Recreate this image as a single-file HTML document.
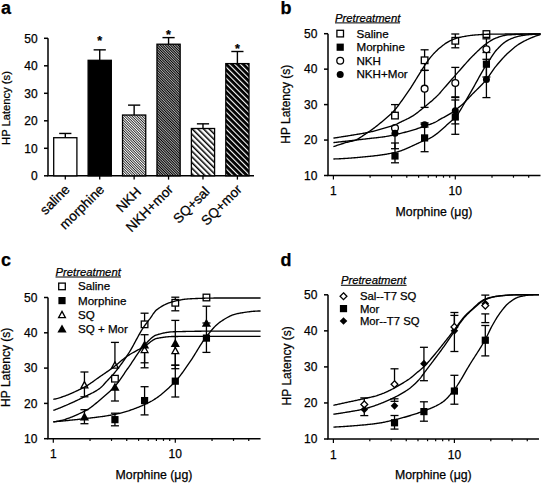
<!DOCTYPE html>
<html><head><meta charset="utf-8"><style>html,body{margin:0;padding:0;background:#fff;}svg{display:block;}text{stroke:#000;stroke-width:0.25px;}</style></head>
<body><svg width="542" height="483" viewBox="0 0 542 483">
<defs>
<pattern id="p1" patternUnits="userSpaceOnUse" width="1.8" height="1.8" patternTransform="rotate(-45)"><rect width="1.8" height="1.8" fill="#fff"/><rect width="0.75" height="1.8" fill="#000"/></pattern>
<pattern id="p2" patternUnits="userSpaceOnUse" width="1.8" height="1.8" patternTransform="rotate(-45)"><rect width="1.8" height="1.8" fill="#fff"/><rect width="1.2" height="1.8" fill="#000"/></pattern>
<pattern id="p3" patternUnits="userSpaceOnUse" width="4" height="4" patternTransform="rotate(-45)"><rect width="4" height="4" fill="#fff"/><rect width="1.5" height="4" fill="#000"/></pattern>
<pattern id="p4" patternUnits="userSpaceOnUse" width="4" height="4" patternTransform="rotate(-45)"><rect width="4" height="4" fill="#000"/><rect width="1.1" height="4" fill="#fff"/></pattern>
</defs>
<rect width="542" height="483" fill="#fff"/>
<text x="1" y="13.7" font-family="'Liberation Sans', sans-serif" font-weight="bold" font-size="18">a</text>
<text transform="translate(10.3,108) rotate(-90)" text-anchor="middle" font-family="'Liberation Sans', sans-serif" font-size="11.2">HP Latency (s)</text>
<path d="M48,38.3 V175.8 H254" stroke="#000" stroke-width="1.5" fill="none"/>
<line x1="44" y1="175.80" x2="48" y2="175.80" stroke="#000" stroke-width="1.5"/>
<text x="37.6" y="180.10" text-anchor="end" font-family="'Liberation Sans', sans-serif" font-size="12">0</text>
<line x1="44" y1="148.30" x2="48" y2="148.30" stroke="#000" stroke-width="1.5"/>
<text x="37.6" y="152.60" text-anchor="end" font-family="'Liberation Sans', sans-serif" font-size="12">10</text>
<line x1="44" y1="120.80" x2="48" y2="120.80" stroke="#000" stroke-width="1.5"/>
<text x="37.6" y="125.10" text-anchor="end" font-family="'Liberation Sans', sans-serif" font-size="12">20</text>
<line x1="44" y1="93.30" x2="48" y2="93.30" stroke="#000" stroke-width="1.5"/>
<text x="37.6" y="97.60" text-anchor="end" font-family="'Liberation Sans', sans-serif" font-size="12">30</text>
<line x1="44" y1="65.80" x2="48" y2="65.80" stroke="#000" stroke-width="1.5"/>
<text x="37.6" y="70.10" text-anchor="end" font-family="'Liberation Sans', sans-serif" font-size="12">40</text>
<line x1="44" y1="38.30" x2="48" y2="38.30" stroke="#000" stroke-width="1.5"/>
<text x="37.6" y="42.60" text-anchor="end" font-family="'Liberation Sans', sans-serif" font-size="12">50</text>
<line x1="65.30" y1="137.71" x2="65.30" y2="133.45" stroke="#000" stroke-width="1.4"/>
<line x1="59.20" y1="133.45" x2="71.40" y2="133.45" stroke="#000" stroke-width="1.4"/>
<rect x="53.70" y="137.71" width="23.20" height="38.09" fill="white" stroke="#000" stroke-width="1.3"/>
<line x1="65.30" y1="175.80" x2="65.30" y2="179.6" stroke="#000" stroke-width="1.3"/>
<text transform="translate(70.70,190.30) rotate(-45)" text-anchor="end" font-family="'Liberation Sans', sans-serif" font-size="13.6">saline</text>
<line x1="99.72" y1="60.30" x2="99.72" y2="49.85" stroke="#000" stroke-width="1.4"/>
<line x1="93.62" y1="49.85" x2="105.82" y2="49.85" stroke="#000" stroke-width="1.4"/>
<rect x="88.12" y="60.30" width="23.20" height="115.50" fill="#000" stroke="#000" stroke-width="1.3"/>
<line x1="99.72" y1="175.80" x2="99.72" y2="179.6" stroke="#000" stroke-width="1.3"/>
<text transform="translate(105.12,190.30) rotate(-45)" text-anchor="end" font-family="'Liberation Sans', sans-serif" font-size="13.6">morphine</text>
<line x1="134.14" y1="115.03" x2="134.14" y2="105.13" stroke="#000" stroke-width="1.4"/>
<line x1="128.04" y1="105.13" x2="140.24" y2="105.13" stroke="#000" stroke-width="1.4"/>
<rect x="122.54" y="115.03" width="23.20" height="60.78" fill="url(#p1)" stroke="#000" stroke-width="1.3"/>
<line x1="134.14" y1="175.80" x2="134.14" y2="179.6" stroke="#000" stroke-width="1.3"/>
<text transform="translate(141.94,192.70) rotate(-45)" text-anchor="end" font-family="'Liberation Sans', sans-serif" font-size="13.6">NKH</text>
<line x1="168.56" y1="44.21" x2="168.56" y2="37.61" stroke="#000" stroke-width="1.4"/>
<line x1="162.46" y1="37.61" x2="174.66" y2="37.61" stroke="#000" stroke-width="1.4"/>
<rect x="156.96" y="44.21" width="23.20" height="131.59" fill="url(#p2)" stroke="#000" stroke-width="1.3"/>
<line x1="168.56" y1="175.80" x2="168.56" y2="179.6" stroke="#000" stroke-width="1.3"/>
<text transform="translate(173.96,190.30) rotate(-45)" text-anchor="end" font-family="'Liberation Sans', sans-serif" font-size="13.6">NKH+mor</text>
<line x1="202.98" y1="128.50" x2="202.98" y2="123.83" stroke="#000" stroke-width="1.4"/>
<line x1="196.88" y1="123.83" x2="209.08" y2="123.83" stroke="#000" stroke-width="1.4"/>
<rect x="191.38" y="128.50" width="23.20" height="47.30" fill="url(#p3)" stroke="#000" stroke-width="1.3"/>
<line x1="202.98" y1="175.80" x2="202.98" y2="179.6" stroke="#000" stroke-width="1.3"/>
<text transform="translate(210.48,192.40) rotate(-45)" text-anchor="end" font-family="'Liberation Sans', sans-serif" font-size="13.6">SQ+sal</text>
<line x1="237.40" y1="63.60" x2="237.40" y2="51.50" stroke="#000" stroke-width="1.4"/>
<line x1="231.30" y1="51.50" x2="243.50" y2="51.50" stroke="#000" stroke-width="1.4"/>
<rect x="225.80" y="63.60" width="23.20" height="112.20" fill="url(#p4)" stroke="#000" stroke-width="1.3"/>
<line x1="237.40" y1="175.80" x2="237.40" y2="179.6" stroke="#000" stroke-width="1.3"/>
<text transform="translate(242.80,190.30) rotate(-45)" text-anchor="end" font-family="'Liberation Sans', sans-serif" font-size="13.6">SQ+mor</text>
<text x="99.72" y="45.10" text-anchor="middle" font-family="'Liberation Sans', sans-serif" font-weight="bold" font-size="12.5">*</text>
<text x="168.56" y="39.10" text-anchor="middle" font-family="'Liberation Sans', sans-serif" font-weight="bold" font-size="12.5">*</text>
<text x="237.40" y="52.90" text-anchor="middle" font-family="'Liberation Sans', sans-serif" font-weight="bold" font-size="12.5">*</text>
<text x="280.5" y="13.8" font-family="'Liberation Sans', sans-serif" font-weight="bold" font-size="18">b</text>
<text transform="translate(290.4,104.2) rotate(-90)" text-anchor="middle" font-family="'Liberation Sans', sans-serif" font-size="12">HP Latency (s)</text>
<path d="M328,33.70 V175.50 H540.50" stroke="#000" stroke-width="1.5" fill="none"/>
<line x1="324" y1="175.50" x2="328" y2="175.50" stroke="#000" stroke-width="1.5"/>
<text x="317.40" y="179.80" text-anchor="end" font-family="'Liberation Sans', sans-serif" font-size="12">10</text>
<line x1="324" y1="140.05" x2="328" y2="140.05" stroke="#000" stroke-width="1.5"/>
<text x="317.40" y="144.35" text-anchor="end" font-family="'Liberation Sans', sans-serif" font-size="12">20</text>
<line x1="324" y1="104.60" x2="328" y2="104.60" stroke="#000" stroke-width="1.5"/>
<text x="317.40" y="108.90" text-anchor="end" font-family="'Liberation Sans', sans-serif" font-size="12">30</text>
<line x1="324" y1="69.15" x2="328" y2="69.15" stroke="#000" stroke-width="1.5"/>
<text x="317.40" y="73.45" text-anchor="end" font-family="'Liberation Sans', sans-serif" font-size="12">40</text>
<line x1="324" y1="33.70" x2="328" y2="33.70" stroke="#000" stroke-width="1.5"/>
<text x="317.40" y="38.00" text-anchor="end" font-family="'Liberation Sans', sans-serif" font-size="12">50</text>
<line x1="333.40" y1="175.50" x2="333.40" y2="179.50" stroke="#000" stroke-width="1.2"/>
<line x1="370.10" y1="175.50" x2="370.10" y2="177.70" stroke="#000" stroke-width="1.2"/>
<line x1="391.56" y1="175.50" x2="391.56" y2="177.70" stroke="#000" stroke-width="1.2"/>
<line x1="406.79" y1="175.50" x2="406.79" y2="177.70" stroke="#000" stroke-width="1.2"/>
<line x1="418.60" y1="175.50" x2="418.60" y2="177.70" stroke="#000" stroke-width="1.2"/>
<line x1="428.26" y1="175.50" x2="428.26" y2="177.70" stroke="#000" stroke-width="1.2"/>
<line x1="436.42" y1="175.50" x2="436.42" y2="177.70" stroke="#000" stroke-width="1.2"/>
<line x1="443.49" y1="175.50" x2="443.49" y2="177.70" stroke="#000" stroke-width="1.2"/>
<line x1="449.72" y1="175.50" x2="449.72" y2="177.70" stroke="#000" stroke-width="1.2"/>
<line x1="455.30" y1="175.50" x2="455.30" y2="179.50" stroke="#000" stroke-width="1.2"/>
<line x1="492.00" y1="175.50" x2="492.00" y2="177.70" stroke="#000" stroke-width="1.2"/>
<line x1="513.46" y1="175.50" x2="513.46" y2="177.70" stroke="#000" stroke-width="1.2"/>
<line x1="528.69" y1="175.50" x2="528.69" y2="177.70" stroke="#000" stroke-width="1.2"/>
<text x="333.40" y="195.00" text-anchor="middle" font-family="'Liberation Sans', sans-serif" font-size="12">1</text>
<text x="455.30" y="195.00" text-anchor="middle" font-family="'Liberation Sans', sans-serif" font-size="12">10</text>
<text x="434" y="215.90" text-anchor="middle" font-family="'Liberation Sans', sans-serif" font-size="12.3">Morphine (μg)</text>
<text x="335" y="21.6" font-family="'Liberation Sans', sans-serif" font-style="italic" font-size="11.3">Pretreatment</text>
<line x1="335" y1="22.900000000000002" x2="400" y2="22.900000000000002" stroke="#000" stroke-width="1"/>
<rect x="336.90" y="30.30" width="6.6" height="6.6" fill="#fff" stroke="#000" stroke-width="1.3"/>
<text x="356.5" y="37.60" font-family="'Liberation Sans', sans-serif" font-size="11.6">Saline</text>
<rect x="336.60" y="43.60" width="7.2" height="7.2" fill="#000"/>
<text x="356.5" y="51.20" font-family="'Liberation Sans', sans-serif" font-size="11.6">Morphine</text>
<circle cx="340.20" cy="60.80" r="3.4" fill="#fff" stroke="#000" stroke-width="1.3"/>
<text x="356.5" y="64.80" font-family="'Liberation Sans', sans-serif" font-size="11.6">NKH</text>
<circle cx="340.20" cy="74.40" r="3.5" fill="#000"/>
<text x="356.5" y="78.40" font-family="'Liberation Sans', sans-serif" font-size="11.6">NKH+Mor</text>
<line x1="394.98" y1="104.60" x2="394.98" y2="115.59" stroke="#000" stroke-width="1.3"/>
<line x1="390.98" y1="104.60" x2="398.98" y2="104.60" stroke="#000" stroke-width="1.3"/>
<line x1="424.60" y1="49.80" x2="424.60" y2="70.40" stroke="#000" stroke-width="1.3"/>
<line x1="420.60" y1="49.80" x2="428.60" y2="49.80" stroke="#000" stroke-width="1.3"/>
<line x1="420.60" y1="70.40" x2="428.60" y2="70.40" stroke="#000" stroke-width="1.3"/>
<line x1="455.30" y1="34.00" x2="455.30" y2="47.80" stroke="#000" stroke-width="1.3"/>
<line x1="451.30" y1="34.00" x2="459.30" y2="34.00" stroke="#000" stroke-width="1.3"/>
<line x1="451.30" y1="47.80" x2="459.30" y2="47.80" stroke="#000" stroke-width="1.3"/>
<line x1="424.60" y1="70.40" x2="424.60" y2="107.40" stroke="#000" stroke-width="1.3"/>
<line x1="420.60" y1="70.40" x2="428.60" y2="70.40" stroke="#000" stroke-width="1.3"/>
<line x1="420.60" y1="107.40" x2="428.60" y2="107.40" stroke="#000" stroke-width="1.3"/>
<line x1="455.30" y1="67.40" x2="455.30" y2="96.90" stroke="#000" stroke-width="1.3"/>
<line x1="451.30" y1="67.40" x2="459.30" y2="67.40" stroke="#000" stroke-width="1.3"/>
<line x1="451.30" y1="96.90" x2="459.30" y2="96.90" stroke="#000" stroke-width="1.3"/>
<line x1="486.42" y1="38.80" x2="486.42" y2="49.30" stroke="#000" stroke-width="1.3"/>
<line x1="482.42" y1="38.80" x2="490.42" y2="38.80" stroke="#000" stroke-width="1.3"/>
<line x1="394.98" y1="143.00" x2="394.98" y2="162.80" stroke="#000" stroke-width="1.3"/>
<line x1="390.98" y1="143.00" x2="398.98" y2="143.00" stroke="#000" stroke-width="1.3"/>
<line x1="390.98" y1="162.80" x2="398.98" y2="162.80" stroke="#000" stroke-width="1.3"/>
<line x1="424.60" y1="124.30" x2="424.60" y2="151.70" stroke="#000" stroke-width="1.3"/>
<line x1="420.60" y1="124.30" x2="428.60" y2="124.30" stroke="#000" stroke-width="1.3"/>
<line x1="420.60" y1="151.70" x2="428.60" y2="151.70" stroke="#000" stroke-width="1.3"/>
<line x1="455.30" y1="100.00" x2="455.30" y2="123.90" stroke="#000" stroke-width="1.3"/>
<line x1="451.30" y1="100.00" x2="459.30" y2="100.00" stroke="#000" stroke-width="1.3"/>
<line x1="451.30" y1="123.90" x2="459.30" y2="123.90" stroke="#000" stroke-width="1.3"/>
<line x1="486.42" y1="52.50" x2="486.42" y2="77.00" stroke="#000" stroke-width="1.3"/>
<line x1="482.42" y1="52.50" x2="490.42" y2="52.50" stroke="#000" stroke-width="1.3"/>
<line x1="482.42" y1="77.00" x2="490.42" y2="77.00" stroke="#000" stroke-width="1.3"/>
<line x1="394.98" y1="133.31" x2="394.98" y2="148.70" stroke="#000" stroke-width="1.3"/>
<line x1="390.98" y1="148.70" x2="398.98" y2="148.70" stroke="#000" stroke-width="1.3"/>
<line x1="424.60" y1="122.90" x2="424.60" y2="127.00" stroke="#000" stroke-width="1.3"/>
<line x1="420.60" y1="122.90" x2="428.60" y2="122.90" stroke="#000" stroke-width="1.3"/>
<line x1="420.60" y1="127.00" x2="428.60" y2="127.00" stroke="#000" stroke-width="1.3"/>
<line x1="455.30" y1="97.50" x2="455.30" y2="134.30" stroke="#000" stroke-width="1.3"/>
<line x1="451.30" y1="97.50" x2="459.30" y2="97.50" stroke="#000" stroke-width="1.3"/>
<line x1="451.30" y1="134.30" x2="459.30" y2="134.30" stroke="#000" stroke-width="1.3"/>
<line x1="486.42" y1="59.30" x2="486.42" y2="97.60" stroke="#000" stroke-width="1.3"/>
<line x1="482.42" y1="59.30" x2="490.42" y2="59.30" stroke="#000" stroke-width="1.3"/>
<line x1="482.42" y1="97.60" x2="490.42" y2="97.60" stroke="#000" stroke-width="1.3"/>
<rect x="391.68" y="112.29" width="6.6" height="6.6" fill="#fff" stroke="#000" stroke-width="1.3"/>
<rect x="421.30" y="56.99" width="6.6" height="6.6" fill="#fff" stroke="#000" stroke-width="1.3"/>
<rect x="452.00" y="37.49" width="6.6" height="6.6" fill="#fff" stroke="#000" stroke-width="1.3"/>
<rect x="483.12" y="30.75" width="6.6" height="6.6" fill="#fff" stroke="#000" stroke-width="1.3"/>
<circle cx="394.98" cy="128.00" r="3.4" fill="#fff" stroke="#000" stroke-width="1.3"/>
<circle cx="424.60" cy="88.65" r="3.4" fill="#fff" stroke="#000" stroke-width="1.3"/>
<circle cx="455.30" cy="82.98" r="3.4" fill="#fff" stroke="#000" stroke-width="1.3"/>
<circle cx="486.42" cy="49.30" r="3.4" fill="#fff" stroke="#000" stroke-width="1.3"/>
<rect x="391.38" y="152.40" width="7.2" height="7.2" fill="#000"/>
<rect x="421.00" y="134.32" width="7.2" height="7.2" fill="#000"/>
<rect x="451.70" y="113.41" width="7.2" height="7.2" fill="#000"/>
<rect x="482.82" y="60.59" width="7.2" height="7.2" fill="#000"/>
<circle cx="394.98" cy="133.31" r="3.5" fill="#000"/>
<circle cx="424.60" cy="124.81" r="3.5" fill="#000"/>
<circle cx="455.30" cy="110.63" r="3.5" fill="#000"/>
<circle cx="486.42" cy="79.43" r="3.5" fill="#000"/>
<polyline points="333.40,146.70 334.26,146.38 335.13,146.07 335.99,145.76 336.85,145.46 337.71,145.17 338.58,144.87 339.44,144.59 340.30,144.31 341.17,144.03 342.03,143.76 342.89,143.49 343.76,143.23 344.62,142.97 345.48,142.72 346.34,142.47 347.21,142.24 348.07,142.02 348.93,141.82 349.80,141.63 350.66,141.44 351.52,141.24 352.38,141.04 353.25,140.81 354.11,140.56 354.97,140.27 355.84,139.94 356.70,139.55 357.56,139.12 358.43,138.64 359.29,138.13 360.15,137.59 361.01,137.03 361.88,136.45 362.74,135.86 363.60,135.26 364.47,134.66 365.33,134.08 366.19,133.50 367.05,132.94 367.92,132.37 368.78,131.79 369.64,131.20 370.51,130.61 371.37,130.00 372.23,129.38 373.10,128.75 373.96,128.11 374.82,127.46 375.68,126.79 376.55,126.11 377.41,125.42 378.27,124.73 379.14,124.02 380.00,123.32 380.86,122.61 381.72,121.90 382.59,121.19 383.45,120.48 384.31,119.77 385.18,119.05 386.04,118.32 386.90,117.59 387.76,116.84 388.63,116.07 389.49,115.28 390.35,114.47 391.22,113.65 392.08,112.80 392.94,111.92 393.81,111.00 394.67,110.05 395.53,109.05 396.39,107.99 397.26,106.89 398.12,105.75 398.98,104.59 399.85,103.40 400.71,102.21 401.57,101.01 402.43,99.81 403.30,98.62 404.16,97.41 405.02,96.19 405.89,94.96 406.75,93.71 407.61,92.46 408.48,91.19 409.34,89.90 410.20,88.60 411.06,87.29 411.93,85.95 412.79,84.59 413.65,83.21 414.52,81.82 415.38,80.41 416.24,79.01 417.10,77.61 417.97,76.21 418.83,74.83 419.69,73.43 420.56,72.03 421.42,70.62 422.28,69.22 423.15,67.84 424.01,66.49 424.87,65.19 425.73,63.92 426.60,62.65 427.46,61.40 428.32,60.18 429.19,59.01 430.05,57.88 430.91,56.82 431.77,55.82 432.64,54.85 433.50,53.90 434.36,52.99 435.23,52.10 436.09,51.24 436.95,50.42 437.82,49.62 438.68,48.85 439.54,48.11 440.40,47.40 441.27,46.70 442.13,46.01 442.99,45.33 443.86,44.68 444.72,44.04 445.58,43.43 446.44,42.85 447.31,42.31 448.17,41.80 449.03,41.33 449.90,40.91 450.76,40.51 451.62,40.12 452.49,39.75 453.35,39.40 454.21,39.06 455.07,38.74 455.94,38.44 456.80,38.16 457.66,37.90 458.53,37.66 459.39,37.44 460.25,37.24 461.11,37.06 461.98,36.88 462.84,36.71 463.70,36.54 464.57,36.38 465.43,36.23 466.29,36.08 467.15,35.94 468.02,35.81 468.88,35.68 469.74,35.56 470.61,35.45 471.47,35.35 472.33,35.25 473.20,35.16 474.06,35.08 474.92,35.01 475.78,34.94 476.65,34.87 477.51,34.81 478.37,34.74 479.24,34.68 480.10,34.62 480.96,34.57 481.82,34.51 482.69,34.46 483.55,34.42 484.41,34.37 485.28,34.34 486.14,34.30 487.00,34.27 487.87,34.24 488.73,34.22 489.59,34.21 490.45,34.19 491.32,34.18 492.18,34.17 493.04,34.16 493.91,34.15 494.77,34.14 495.63,34.13 496.49,34.12 497.36,34.12 498.22,34.11 499.08,34.10 499.95,34.09 500.81,34.08 501.67,34.07 502.54,34.07 503.40,34.06 504.26,34.05 505.12,34.04 505.99,34.04 506.85,34.03 507.71,34.02 508.58,34.02 509.44,34.01 510.30,34.00 511.16,34.00 512.03,33.99 512.89,33.99 513.75,33.98 514.62,33.97 515.48,33.97 516.34,33.96 517.21,33.96 518.07,33.96 518.93,33.95 519.79,33.95 520.66,33.94 521.52,33.94 522.38,33.94 523.25,33.93 524.11,33.93 524.97,33.93 525.83,33.92 526.70,33.92 527.56,33.92 528.42,33.92 529.29,33.91 530.15,33.91 531.01,33.91 531.88,33.91 532.74,33.91 533.60,33.90 534.46,33.90 535.33,33.90 536.19,33.90 537.05,33.90 537.92,33.90 538.78,33.90 539.64,33.90 540.50,33.90" fill="none" stroke="#000" stroke-width="1.35"/>
<polyline points="333.40,138.10 334.26,137.97 335.13,137.85 335.99,137.72 336.85,137.59 337.71,137.46 338.58,137.33 339.44,137.19 340.30,137.06 341.17,136.93 342.03,136.79 342.89,136.66 343.76,136.52 344.62,136.39 345.48,136.25 346.34,136.11 347.21,135.97 348.07,135.83 348.93,135.69 349.80,135.55 350.66,135.41 351.52,135.26 352.38,135.12 353.25,134.98 354.11,134.84 354.97,134.70 355.84,134.56 356.70,134.42 357.56,134.28 358.43,134.14 359.29,134.00 360.15,133.85 361.01,133.70 361.88,133.56 362.74,133.40 363.60,133.25 364.47,133.09 365.33,132.93 366.19,132.77 367.05,132.60 367.92,132.43 368.78,132.26 369.64,132.08 370.51,131.89 371.37,131.70 372.23,131.50 373.10,131.29 373.96,131.08 374.82,130.86 375.68,130.64 376.55,130.41 377.41,130.18 378.27,129.94 379.14,129.70 380.00,129.46 380.86,129.21 381.72,128.96 382.59,128.71 383.45,128.46 384.31,128.21 385.18,127.95 386.04,127.70 386.90,127.45 387.76,127.20 388.63,126.95 389.49,126.69 390.35,126.43 391.22,126.16 392.08,125.88 392.94,125.58 393.81,125.28 394.67,124.95 395.53,124.60 396.39,124.21 397.26,123.79 398.12,123.35 398.98,122.91 399.85,122.48 400.71,122.05 401.57,121.64 402.43,121.23 403.30,120.82 404.16,120.41 405.02,120.00 405.89,119.58 406.75,119.16 407.61,118.73 408.48,118.29 409.34,117.84 410.20,117.37 411.06,116.89 411.93,116.38 412.79,115.86 413.65,115.31 414.52,114.73 415.38,114.13 416.24,113.50 417.10,112.86 417.97,112.20 418.83,111.53 419.69,110.84 420.56,110.15 421.42,109.45 422.28,108.74 423.15,108.04 424.01,107.33 424.87,106.62 425.73,105.92 426.60,105.22 427.46,104.51 428.32,103.80 429.19,103.09 430.05,102.36 430.91,101.63 431.77,100.89 432.64,100.14 433.50,99.37 434.36,98.59 435.23,97.80 436.09,96.98 436.95,96.14 437.82,95.29 438.68,94.40 439.54,93.45 440.40,92.45 441.27,91.43 442.13,90.40 442.99,89.39 443.86,88.39 444.72,87.41 445.58,86.43 446.44,85.44 447.31,84.46 448.17,83.48 449.03,82.50 449.90,81.52 450.76,80.54 451.62,79.56 452.49,78.57 453.35,77.59 454.21,76.60 455.07,75.61 455.94,74.62 456.80,73.63 457.66,72.64 458.53,71.66 459.39,70.69 460.25,69.72 461.11,68.74 461.98,67.77 462.84,66.78 463.70,65.80 464.57,64.82 465.43,63.84 466.29,62.87 467.15,61.90 468.02,60.94 468.88,60.00 469.74,59.06 470.61,58.14 471.47,57.24 472.33,56.36 473.20,55.50 474.06,54.66 474.92,53.81 475.78,52.96 476.65,52.12 477.51,51.29 478.37,50.46 479.24,49.65 480.10,48.85 480.96,48.06 481.82,47.30 482.69,46.55 483.55,45.83 484.41,45.13 485.28,44.46 486.14,43.81 487.00,43.20 487.87,42.62 488.73,42.04 489.59,41.48 490.45,40.93 491.32,40.40 492.18,39.89 493.04,39.41 493.91,38.96 494.77,38.54 495.63,38.17 496.49,37.84 497.36,37.54 498.22,37.24 499.08,36.95 499.95,36.66 500.81,36.39 501.67,36.14 502.54,35.90 503.40,35.67 504.26,35.47 505.12,35.30 505.99,35.15 506.85,35.03 507.71,34.94 508.58,34.88 509.44,34.82 510.30,34.77 511.16,34.72 512.03,34.67 512.89,34.63 513.75,34.58 514.62,34.54 515.48,34.50 516.34,34.45 517.21,34.42 518.07,34.38 518.93,34.34 519.79,34.31 520.66,34.27 521.52,34.24 522.38,34.21 523.25,34.18 524.11,34.15 524.97,34.13 525.83,34.10 526.70,34.08 527.56,34.06 528.42,34.04 529.29,34.02 530.15,34.00 531.01,33.98 531.88,33.97 532.74,33.96 533.60,33.94 534.46,33.93 535.33,33.92 536.19,33.92 537.05,33.91 537.92,33.91 538.78,33.90 539.64,33.90 540.50,33.90" fill="none" stroke="#000" stroke-width="1.35"/>
<polyline points="333.40,159.00 334.26,158.97 335.13,158.95 335.99,158.92 336.85,158.88 337.71,158.85 338.58,158.81 339.44,158.77 340.30,158.73 341.17,158.68 342.03,158.64 342.89,158.59 343.76,158.54 344.62,158.49 345.48,158.43 346.34,158.37 347.21,158.32 348.07,158.26 348.93,158.19 349.80,158.13 350.66,158.07 351.52,158.00 352.38,157.93 353.25,157.86 354.11,157.79 354.97,157.72 355.84,157.65 356.70,157.57 357.56,157.49 358.43,157.42 359.29,157.34 360.15,157.26 361.01,157.18 361.88,157.10 362.74,157.02 363.60,156.93 364.47,156.85 365.33,156.77 366.19,156.68 367.05,156.60 367.92,156.51 368.78,156.42 369.64,156.34 370.51,156.25 371.37,156.16 372.23,156.07 373.10,155.97 373.96,155.88 374.82,155.78 375.68,155.68 376.55,155.57 377.41,155.47 378.27,155.36 379.14,155.24 380.00,155.13 380.86,155.01 381.72,154.89 382.59,154.76 383.45,154.63 384.31,154.50 385.18,154.36 386.04,154.22 386.90,154.08 387.76,153.93 388.63,153.78 389.49,153.62 390.35,153.46 391.22,153.30 392.08,153.12 392.94,152.95 393.81,152.77 394.67,152.59 395.53,152.39 396.39,152.17 397.26,151.94 398.12,151.69 398.98,151.42 399.85,151.14 400.71,150.85 401.57,150.54 402.43,150.22 403.30,149.88 404.16,149.54 405.02,149.19 405.89,148.83 406.75,148.46 407.61,148.08 408.48,147.70 409.34,147.31 410.20,146.91 411.06,146.51 411.93,146.11 412.79,145.71 413.65,145.30 414.52,144.90 415.38,144.49 416.24,144.09 417.10,143.69 417.97,143.29 418.83,142.89 419.69,142.50 420.56,142.11 421.42,141.73 422.28,141.36 423.15,140.99 424.01,140.64 424.87,140.30 425.73,139.97 426.60,139.65 427.46,139.32 428.32,138.97 429.19,138.59 430.05,138.18 430.91,137.72 431.77,137.22 432.64,136.69 433.50,136.13 434.36,135.54 435.23,134.92 436.09,134.28 436.95,133.61 437.82,132.92 438.68,132.22 439.54,131.50 440.40,130.76 441.27,130.01 442.13,129.25 442.99,128.48 443.86,127.71 444.72,126.93 445.58,126.15 446.44,125.37 447.31,124.60 448.17,123.82 449.03,123.06 449.90,122.30 450.76,121.56 451.62,120.83 452.49,120.08 453.35,119.30 454.21,118.46 455.07,117.55 455.94,116.55 456.80,115.46 457.66,114.29 458.53,113.04 459.39,111.73 460.25,110.36 461.11,108.94 461.98,107.48 462.84,105.99 463.70,104.47 464.57,102.95 465.43,101.41 466.29,99.88 467.15,98.35 468.02,96.85 468.88,95.37 469.74,93.91 470.61,92.43 471.47,90.92 472.33,89.40 473.20,87.87 474.06,86.32 474.92,84.76 475.78,83.20 476.65,81.63 477.51,80.07 478.37,78.51 479.24,76.95 480.10,75.40 480.96,73.87 481.82,72.35 482.69,70.85 483.55,69.37 484.41,67.92 485.28,66.49 486.14,65.09 487.00,63.73 487.87,62.40 488.73,61.10 489.59,59.81 490.45,58.52 491.32,57.20 492.18,55.88 493.04,54.59 493.91,53.33 494.77,52.13 495.63,51.02 496.49,50.01 497.36,49.09 498.22,48.18 499.08,47.30 499.95,46.44 500.81,45.60 501.67,44.80 502.54,44.04 503.40,43.31 504.26,42.62 505.12,41.98 505.99,41.39 506.85,40.84 507.71,40.35 508.58,39.91 509.44,39.50 510.30,39.10 511.16,38.72 512.03,38.36 512.89,38.02 513.75,37.69 514.62,37.39 515.48,37.10 516.34,36.84 517.21,36.60 518.07,36.37 518.93,36.18 519.79,36.00 520.66,35.84 521.52,35.69 522.38,35.55 523.25,35.41 524.11,35.29 524.97,35.17 525.83,35.06 526.70,34.95 527.56,34.85 528.42,34.76 529.29,34.68 530.15,34.60 531.01,34.53 531.88,34.46 532.74,34.40 533.60,34.34 534.46,34.28 535.33,34.22 536.19,34.17 537.05,34.13 537.92,34.09 538.78,34.05 539.64,34.02 540.50,34.00" fill="none" stroke="#000" stroke-width="1.35"/>
<polyline points="333.40,142.60 334.26,142.51 335.13,142.41 335.99,142.31 336.85,142.22 337.71,142.12 338.58,142.03 339.44,141.93 340.30,141.84 341.17,141.74 342.03,141.64 342.89,141.54 343.76,141.45 344.62,141.35 345.48,141.25 346.34,141.16 347.21,141.06 348.07,140.96 348.93,140.86 349.80,140.76 350.66,140.66 351.52,140.56 352.38,140.47 353.25,140.37 354.11,140.27 354.97,140.17 355.84,140.07 356.70,139.97 357.56,139.87 358.43,139.77 359.29,139.67 360.15,139.57 361.01,139.47 361.88,139.37 362.74,139.27 363.60,139.16 364.47,139.06 365.33,138.96 366.19,138.86 367.05,138.76 367.92,138.67 368.78,138.57 369.64,138.48 370.51,138.38 371.37,138.29 372.23,138.19 373.10,138.10 373.96,138.00 374.82,137.91 375.68,137.81 376.55,137.71 377.41,137.61 378.27,137.51 379.14,137.40 380.00,137.30 380.86,137.19 381.72,137.07 382.59,136.96 383.45,136.84 384.31,136.71 385.18,136.58 386.04,136.45 386.90,136.30 387.76,136.15 388.63,136.00 389.49,135.83 390.35,135.66 391.22,135.49 392.08,135.31 392.94,135.12 393.81,134.93 394.67,134.74 395.53,134.54 396.39,134.34 397.26,134.14 398.12,133.94 398.98,133.74 399.85,133.54 400.71,133.33 401.57,133.12 402.43,132.91 403.30,132.69 404.16,132.48 405.02,132.25 405.89,132.02 406.75,131.79 407.61,131.56 408.48,131.32 409.34,131.08 410.20,130.84 411.06,130.59 411.93,130.34 412.79,130.08 413.65,129.83 414.52,129.56 415.38,129.29 416.24,129.02 417.10,128.75 417.97,128.46 418.83,128.18 419.69,127.89 420.56,127.60 421.42,127.31 422.28,127.01 423.15,126.71 424.01,126.41 424.87,126.11 425.73,125.81 426.60,125.51 427.46,125.22 428.32,124.92 429.19,124.62 430.05,124.31 430.91,124.00 431.77,123.67 432.64,123.33 433.50,122.97 434.36,122.59 435.23,122.19 436.09,121.74 436.95,121.25 437.82,120.72 438.68,120.19 439.54,119.67 440.40,119.17 441.27,118.69 442.13,118.21 442.99,117.74 443.86,117.28 444.72,116.82 445.58,116.35 446.44,115.88 447.31,115.40 448.17,114.91 449.03,114.41 449.90,113.89 450.76,113.35 451.62,112.79 452.49,112.17 453.35,111.52 454.21,110.84 455.07,110.17 455.94,109.51 456.80,108.86 457.66,108.22 458.53,107.57 459.39,106.90 460.25,106.22 461.11,105.52 461.98,104.78 462.84,104.01 463.70,103.20 464.57,102.35 465.43,101.47 466.29,100.57 467.15,99.65 468.02,98.72 468.88,97.78 469.74,96.85 470.61,95.93 471.47,95.03 472.33,94.15 473.20,93.28 474.06,92.42 474.92,91.57 475.78,90.72 476.65,89.88 477.51,89.04 478.37,88.19 479.24,87.33 480.10,86.47 480.96,85.59 481.82,84.69 482.69,83.77 483.55,82.84 484.41,81.87 485.28,80.88 486.14,79.85 487.00,78.76 487.87,77.60 488.73,76.38 489.59,75.12 490.45,73.84 491.32,72.55 492.18,71.27 493.04,70.03 493.91,68.83 494.77,67.69 495.63,66.62 496.49,65.55 497.36,64.50 498.22,63.47 499.08,62.45 499.95,61.44 500.81,60.45 501.67,59.48 502.54,58.53 503.40,57.59 504.26,56.68 505.12,55.79 505.99,54.92 506.85,54.07 507.71,53.25 508.58,52.45 509.44,51.67 510.30,50.90 511.16,50.14 512.03,49.39 512.89,48.66 513.75,47.95 514.62,47.26 515.48,46.59 516.34,45.94 517.21,45.32 518.07,44.72 518.93,44.15 519.79,43.60 520.66,43.08 521.52,42.58 522.38,42.10 523.25,41.63 524.11,41.17 524.97,40.73 525.83,40.31 526.70,39.89 527.56,39.49 528.42,39.09 529.29,38.71 530.15,38.33 531.01,37.96 531.88,37.60 532.74,37.25 533.60,36.90 534.46,36.56 535.33,36.24 536.19,35.92 537.05,35.61 537.92,35.31 538.78,35.02 539.64,34.74 540.50,34.47" fill="none" stroke="#000" stroke-width="1.35"/>
<text x="1" y="265.7" font-family="'Liberation Sans', sans-serif" font-weight="bold" font-size="18">c</text>
<text transform="translate(10.3,367.3) rotate(-90)" text-anchor="middle" font-family="'Liberation Sans', sans-serif" font-size="12">HP Latency (s)</text>
<path d="M48,297.50 V438.70 H260.57" stroke="#000" stroke-width="1.5" fill="none"/>
<line x1="44" y1="438.70" x2="48" y2="438.70" stroke="#000" stroke-width="1.5"/>
<text x="37.40" y="443.00" text-anchor="end" font-family="'Liberation Sans', sans-serif" font-size="12">10</text>
<line x1="44" y1="403.40" x2="48" y2="403.40" stroke="#000" stroke-width="1.5"/>
<text x="37.40" y="407.70" text-anchor="end" font-family="'Liberation Sans', sans-serif" font-size="12">20</text>
<line x1="44" y1="368.10" x2="48" y2="368.10" stroke="#000" stroke-width="1.5"/>
<text x="37.40" y="372.40" text-anchor="end" font-family="'Liberation Sans', sans-serif" font-size="12">30</text>
<line x1="44" y1="332.80" x2="48" y2="332.80" stroke="#000" stroke-width="1.5"/>
<text x="37.40" y="337.10" text-anchor="end" font-family="'Liberation Sans', sans-serif" font-size="12">40</text>
<line x1="44" y1="297.50" x2="48" y2="297.50" stroke="#000" stroke-width="1.5"/>
<text x="37.40" y="301.80" text-anchor="end" font-family="'Liberation Sans', sans-serif" font-size="12">50</text>
<line x1="53.30" y1="438.70" x2="53.30" y2="442.70" stroke="#000" stroke-width="1.2"/>
<line x1="90.03" y1="438.70" x2="90.03" y2="440.90" stroke="#000" stroke-width="1.2"/>
<line x1="111.51" y1="438.70" x2="111.51" y2="440.90" stroke="#000" stroke-width="1.2"/>
<line x1="126.75" y1="438.70" x2="126.75" y2="440.90" stroke="#000" stroke-width="1.2"/>
<line x1="138.57" y1="438.70" x2="138.57" y2="440.90" stroke="#000" stroke-width="1.2"/>
<line x1="148.23" y1="438.70" x2="148.23" y2="440.90" stroke="#000" stroke-width="1.2"/>
<line x1="156.40" y1="438.70" x2="156.40" y2="440.90" stroke="#000" stroke-width="1.2"/>
<line x1="163.48" y1="438.70" x2="163.48" y2="440.90" stroke="#000" stroke-width="1.2"/>
<line x1="169.72" y1="438.70" x2="169.72" y2="440.90" stroke="#000" stroke-width="1.2"/>
<line x1="175.30" y1="438.70" x2="175.30" y2="442.70" stroke="#000" stroke-width="1.2"/>
<line x1="212.03" y1="438.70" x2="212.03" y2="440.90" stroke="#000" stroke-width="1.2"/>
<line x1="233.51" y1="438.70" x2="233.51" y2="440.90" stroke="#000" stroke-width="1.2"/>
<line x1="248.75" y1="438.70" x2="248.75" y2="440.90" stroke="#000" stroke-width="1.2"/>
<text x="53.30" y="458.20" text-anchor="middle" font-family="'Liberation Sans', sans-serif" font-size="12">1</text>
<text x="175.30" y="458.20" text-anchor="middle" font-family="'Liberation Sans', sans-serif" font-size="12">10</text>
<text x="154" y="479.10" text-anchor="middle" font-family="'Liberation Sans', sans-serif" font-size="12.3">Morphine (μg)</text>
<text x="55.5" y="275.7" font-family="'Liberation Sans', sans-serif" font-style="italic" font-size="11.3">Pretreatment</text>
<line x1="55.5" y1="277.0" x2="121.0" y2="277.0" stroke="#000" stroke-width="1"/>
<rect x="58.70" y="283.10" width="6.6" height="6.6" fill="#fff" stroke="#000" stroke-width="1.3"/>
<text x="78" y="290.40" font-family="'Liberation Sans', sans-serif" font-size="11.6">Saline</text>
<rect x="58.40" y="297.00" width="7.2" height="7.2" fill="#000"/>
<text x="78" y="304.60" font-family="'Liberation Sans', sans-serif" font-size="11.6">Morphine</text>
<path d="M62.00,311.40 L65.40,317.60 L58.60,317.60Z" fill="#fff" stroke="#000" stroke-width="1.3" stroke-linejoin="miter"/>
<text x="78" y="318.80" font-family="'Liberation Sans', sans-serif" font-size="11.6">SQ</text>
<path d="M62.00,324.40 L66.60,332.60 L57.40,332.60Z" fill="#000"/>
<text x="78" y="333.00" font-family="'Liberation Sans', sans-serif" font-size="11.6">SQ + Mor</text>
<line x1="144.58" y1="313.20" x2="144.58" y2="324.33" stroke="#000" stroke-width="1.3"/>
<line x1="140.58" y1="313.20" x2="148.58" y2="313.20" stroke="#000" stroke-width="1.3"/>
<line x1="175.30" y1="297.20" x2="175.30" y2="310.80" stroke="#000" stroke-width="1.3"/>
<line x1="171.30" y1="297.20" x2="179.30" y2="297.20" stroke="#000" stroke-width="1.3"/>
<line x1="171.30" y1="310.80" x2="179.30" y2="310.80" stroke="#000" stroke-width="1.3"/>
<line x1="114.93" y1="413.20" x2="114.93" y2="425.80" stroke="#000" stroke-width="1.3"/>
<line x1="110.93" y1="413.20" x2="118.93" y2="413.20" stroke="#000" stroke-width="1.3"/>
<line x1="110.93" y1="425.80" x2="118.93" y2="425.80" stroke="#000" stroke-width="1.3"/>
<line x1="144.58" y1="386.70" x2="144.58" y2="414.90" stroke="#000" stroke-width="1.3"/>
<line x1="140.58" y1="386.70" x2="148.58" y2="386.70" stroke="#000" stroke-width="1.3"/>
<line x1="140.58" y1="414.90" x2="148.58" y2="414.90" stroke="#000" stroke-width="1.3"/>
<line x1="175.30" y1="365.20" x2="175.30" y2="397.00" stroke="#000" stroke-width="1.3"/>
<line x1="171.30" y1="365.20" x2="179.30" y2="365.20" stroke="#000" stroke-width="1.3"/>
<line x1="171.30" y1="397.00" x2="179.30" y2="397.00" stroke="#000" stroke-width="1.3"/>
<line x1="206.44" y1="323.00" x2="206.44" y2="352.40" stroke="#000" stroke-width="1.3"/>
<line x1="202.44" y1="323.00" x2="210.44" y2="323.00" stroke="#000" stroke-width="1.3"/>
<line x1="202.44" y1="352.40" x2="210.44" y2="352.40" stroke="#000" stroke-width="1.3"/>
<line x1="84.44" y1="372.00" x2="84.44" y2="396.80" stroke="#000" stroke-width="1.3"/>
<line x1="80.44" y1="372.00" x2="88.44" y2="372.00" stroke="#000" stroke-width="1.3"/>
<line x1="80.44" y1="396.80" x2="88.44" y2="396.80" stroke="#000" stroke-width="1.3"/>
<line x1="114.93" y1="342.40" x2="114.93" y2="365.28" stroke="#000" stroke-width="1.3"/>
<line x1="110.93" y1="342.40" x2="118.93" y2="342.40" stroke="#000" stroke-width="1.3"/>
<line x1="144.58" y1="349.74" x2="144.58" y2="367.80" stroke="#000" stroke-width="1.3"/>
<line x1="140.58" y1="367.80" x2="148.58" y2="367.80" stroke="#000" stroke-width="1.3"/>
<line x1="175.30" y1="320.40" x2="175.30" y2="368.70" stroke="#000" stroke-width="1.3"/>
<line x1="171.30" y1="320.40" x2="179.30" y2="320.40" stroke="#000" stroke-width="1.3"/>
<line x1="171.30" y1="368.70" x2="179.30" y2="368.70" stroke="#000" stroke-width="1.3"/>
<line x1="84.44" y1="409.70" x2="84.44" y2="423.70" stroke="#000" stroke-width="1.3"/>
<line x1="80.44" y1="409.70" x2="88.44" y2="409.70" stroke="#000" stroke-width="1.3"/>
<line x1="80.44" y1="423.70" x2="88.44" y2="423.70" stroke="#000" stroke-width="1.3"/>
<line x1="114.93" y1="387.16" x2="114.93" y2="401.00" stroke="#000" stroke-width="1.3"/>
<line x1="110.93" y1="401.00" x2="118.93" y2="401.00" stroke="#000" stroke-width="1.3"/>
<line x1="144.58" y1="334.70" x2="144.58" y2="362.80" stroke="#000" stroke-width="1.3"/>
<line x1="140.58" y1="334.70" x2="148.58" y2="334.70" stroke="#000" stroke-width="1.3"/>
<line x1="140.58" y1="362.80" x2="148.58" y2="362.80" stroke="#000" stroke-width="1.3"/>
<line x1="175.30" y1="343.39" x2="175.30" y2="365.20" stroke="#000" stroke-width="1.3"/>
<line x1="171.30" y1="365.20" x2="179.30" y2="365.20" stroke="#000" stroke-width="1.3"/>
<line x1="206.44" y1="306.20" x2="206.44" y2="323.27" stroke="#000" stroke-width="1.3"/>
<line x1="202.44" y1="306.20" x2="210.44" y2="306.20" stroke="#000" stroke-width="1.3"/>
<rect x="111.63" y="375.39" width="6.6" height="6.6" fill="#fff" stroke="#000" stroke-width="1.3"/>
<rect x="141.28" y="321.03" width="6.6" height="6.6" fill="#fff" stroke="#000" stroke-width="1.3"/>
<rect x="172.00" y="299.49" width="6.6" height="6.6" fill="#fff" stroke="#000" stroke-width="1.3"/>
<rect x="203.14" y="294.20" width="6.6" height="6.6" fill="#fff" stroke="#000" stroke-width="1.3"/>
<rect x="111.33" y="416.04" width="7.2" height="7.2" fill="#000"/>
<rect x="140.98" y="396.98" width="7.2" height="7.2" fill="#000"/>
<rect x="171.70" y="377.56" width="7.2" height="7.2" fill="#000"/>
<rect x="202.84" y="334.50" width="7.2" height="7.2" fill="#000"/>
<path d="M84.44,381.64 L87.84,387.84 L81.04,387.84Z" fill="#fff" stroke="#000" stroke-width="1.3" stroke-linejoin="miter"/>
<path d="M114.93,361.88 L118.33,368.08 L111.53,368.08Z" fill="#fff" stroke="#000" stroke-width="1.3" stroke-linejoin="miter"/>
<path d="M144.58,346.34 L147.98,352.54 L141.18,352.54Z" fill="#fff" stroke="#000" stroke-width="1.3" stroke-linejoin="miter"/>
<path d="M175.30,347.40 L178.70,353.60 L171.90,353.60Z" fill="#fff" stroke="#000" stroke-width="1.3" stroke-linejoin="miter"/>
<path d="M84.44,412.21 L89.04,420.41 L79.84,420.41Z" fill="#000"/>
<path d="M114.93,382.56 L119.53,390.76 L110.33,390.76Z" fill="#000"/>
<path d="M144.58,340.20 L149.18,348.40 L139.98,348.40Z" fill="#000"/>
<path d="M175.30,338.79 L179.90,346.99 L170.70,346.99Z" fill="#000"/>
<path d="M206.44,318.67 L211.04,326.87 L201.84,326.87Z" fill="#000"/>
<polyline points="53.30,410.40 54.16,410.09 55.03,409.77 55.89,409.44 56.75,409.12 57.62,408.78 58.48,408.45 59.35,408.11 60.21,407.76 61.07,407.41 61.94,407.06 62.80,406.71 63.66,406.35 64.53,405.98 65.39,405.62 66.25,405.25 67.12,404.87 67.98,404.50 68.85,404.12 69.71,403.73 70.57,403.35 71.44,402.96 72.30,402.56 73.16,402.17 74.03,401.77 74.89,401.37 75.75,400.97 76.62,400.56 77.48,400.15 78.35,399.74 79.21,399.33 80.07,398.91 80.94,398.50 81.80,398.08 82.66,397.65 83.53,397.23 84.39,396.81 85.25,396.38 86.12,395.97 86.98,395.56 87.85,395.14 88.71,394.73 89.57,394.31 90.44,393.89 91.30,393.46 92.16,393.02 93.03,392.57 93.89,392.10 94.75,391.62 95.62,391.11 96.48,390.59 97.35,390.05 98.21,389.47 99.07,388.88 99.94,388.25 100.80,387.55 101.66,386.77 102.53,385.90 103.39,384.98 104.25,384.01 105.12,383.03 105.98,382.05 106.85,381.10 107.71,380.17 108.57,379.27 109.44,378.38 110.30,377.49 111.16,376.59 112.03,375.66 112.89,374.72 113.76,373.74 114.62,372.72 115.48,371.67 116.35,370.60 117.21,369.51 118.07,368.40 118.94,367.26 119.80,366.11 120.66,364.94 121.53,363.74 122.39,362.53 123.26,361.31 124.12,360.06 124.98,358.80 125.85,357.52 126.71,356.23 127.57,354.92 128.44,353.60 129.30,352.24 130.16,350.82 131.03,349.36 131.89,347.85 132.76,346.30 133.62,344.73 134.48,343.14 135.35,341.54 136.21,339.94 137.07,338.34 137.94,336.75 138.80,335.18 139.66,333.64 140.53,332.14 141.39,330.68 142.26,329.27 143.12,327.92 143.98,326.64 144.85,325.42 145.71,324.24 146.57,323.09 147.44,321.96 148.30,320.84 149.16,319.71 150.03,318.55 150.89,317.32 151.76,316.04 152.62,314.75 153.48,313.49 154.35,312.31 155.21,311.25 156.07,310.35 156.94,309.64 157.80,308.99 158.66,308.37 159.53,307.78 160.39,307.21 161.26,306.67 162.12,306.15 162.98,305.66 163.85,305.19 164.71,304.74 165.57,304.32 166.44,303.92 167.30,303.55 168.16,303.19 169.03,302.86 169.89,302.56 170.76,302.27 171.62,302.00 172.48,301.76 173.35,301.54 174.21,301.32 175.07,301.11 175.94,300.91 176.80,300.71 177.66,300.52 178.53,300.33 179.39,300.16 180.26,299.99 181.12,299.83 181.98,299.68 182.85,299.53 183.71,299.40 184.57,299.28 185.44,299.17 186.30,299.07 187.16,298.98 188.03,298.91 188.89,298.85 189.76,298.80 190.62,298.76 191.48,298.71 192.35,298.67 193.21,298.64 194.07,298.60 194.94,298.56 195.80,298.52 196.66,298.49 197.53,298.46 198.39,298.42 199.26,298.39 200.12,298.36 200.98,298.33 201.85,298.30 202.71,298.28 203.57,298.25 204.44,298.23 205.30,298.20 206.16,298.18 207.03,298.16 207.89,298.14 208.76,298.12 209.62,298.10 210.48,298.09 211.35,298.07 212.21,298.06 213.07,298.05 213.94,298.04 214.80,298.03 215.66,298.02 216.53,298.01 217.39,298.01 218.26,298.00 219.12,298.00 219.98,298.00 220.85,298.00 221.71,298.00 222.57,298.00 223.44,298.00 224.30,298.00 225.16,298.00 226.03,298.00 226.89,298.00 227.76,298.00 228.62,298.00 229.48,298.00 230.35,298.00 231.21,298.00 232.07,298.00 232.94,298.00 233.80,298.00 234.67,298.00 235.53,298.00 236.39,298.00 237.26,298.00 238.12,298.00 238.98,298.00 239.85,298.00 240.71,298.00 241.57,298.00 242.44,298.00 243.30,298.00 244.17,298.00 245.03,298.00 245.89,298.00 246.76,298.00 247.62,298.00 248.48,298.00 249.35,298.00 250.21,298.00 251.07,298.00 251.94,298.00 252.80,298.00 253.67,298.00 254.53,298.00 255.39,298.00 256.26,298.00 257.12,298.00 257.98,298.00 258.85,298.00 259.71,298.00 260.57,298.00" fill="none" stroke="#000" stroke-width="1.35"/>
<polyline points="53.30,421.80 54.16,421.73 55.03,421.66 55.89,421.59 56.75,421.51 57.62,421.44 58.48,421.36 59.35,421.29 60.21,421.21 61.07,421.13 61.94,421.05 62.80,420.97 63.66,420.89 64.53,420.81 65.39,420.72 66.25,420.64 67.12,420.55 67.98,420.47 68.85,420.38 69.71,420.29 70.57,420.20 71.44,420.11 72.30,420.02 73.16,419.93 74.03,419.84 74.89,419.75 75.75,419.65 76.62,419.56 77.48,419.46 78.35,419.37 79.21,419.27 80.07,419.17 80.94,419.08 81.80,418.98 82.66,418.88 83.53,418.78 84.39,418.68 85.25,418.58 86.12,418.48 86.98,418.38 87.85,418.28 88.71,418.18 89.57,418.08 90.44,417.98 91.30,417.88 92.16,417.78 93.03,417.67 93.89,417.57 94.75,417.47 95.62,417.36 96.48,417.26 97.35,417.15 98.21,417.04 99.07,416.93 99.94,416.81 100.80,416.70 101.66,416.58 102.53,416.46 103.39,416.34 104.25,416.21 105.12,416.08 105.98,415.95 106.85,415.82 107.71,415.68 108.57,415.54 109.44,415.39 110.30,415.24 111.16,415.09 112.03,414.93 112.89,414.77 113.76,414.61 114.62,414.44 115.48,414.26 116.35,414.08 117.21,413.89 118.07,413.69 118.94,413.49 119.80,413.28 120.66,413.06 121.53,412.84 122.39,412.61 123.26,412.37 124.12,412.13 124.98,411.88 125.85,411.62 126.71,411.36 127.57,411.09 128.44,410.82 129.30,410.53 130.16,410.25 131.03,409.95 131.89,409.65 132.76,409.34 133.62,409.03 134.48,408.71 135.35,408.38 136.21,408.05 137.07,407.71 137.94,407.36 138.80,407.01 139.66,406.66 140.53,406.29 141.39,405.92 142.26,405.55 143.12,405.16 143.98,404.77 144.85,404.38 145.71,403.98 146.57,403.57 147.44,403.16 148.30,402.74 149.16,402.32 150.03,401.89 150.89,401.44 151.76,400.97 152.62,400.48 153.48,399.97 154.35,399.44 155.21,398.88 156.07,398.31 156.94,397.72 157.80,397.11 158.66,396.48 159.53,395.83 160.39,395.17 161.26,394.49 162.12,393.79 162.98,393.07 163.85,392.35 164.71,391.60 165.57,390.84 166.44,390.07 167.30,389.29 168.16,388.49 169.03,387.68 169.89,386.86 170.76,386.03 171.62,385.19 172.48,384.33 173.35,383.47 174.21,382.60 175.07,381.72 175.94,380.80 176.80,379.83 177.66,378.82 178.53,377.77 179.39,376.68 180.26,375.56 181.12,374.41 181.98,373.24 182.85,372.05 183.71,370.84 184.57,369.61 185.44,368.38 186.30,367.13 187.16,365.89 188.03,364.64 188.89,363.40 189.76,362.16 190.62,360.91 191.48,359.62 192.35,358.29 193.21,356.94 194.07,355.56 194.94,354.16 195.80,352.75 196.66,351.33 197.53,349.91 198.39,348.50 199.26,347.10 200.12,345.71 200.98,344.35 201.85,343.02 202.71,341.72 203.57,340.45 204.44,339.24 205.30,338.07 206.16,336.96 207.03,335.87 207.89,334.77 208.76,333.68 209.62,332.61 210.48,331.55 211.35,330.51 212.21,329.49 213.07,328.50 213.94,327.54 214.80,326.63 215.66,325.75 216.53,324.92 217.39,324.14 218.26,323.41 219.12,322.74 219.98,322.13 220.85,321.54 221.71,320.96 222.57,320.38 223.44,319.82 224.30,319.28 225.16,318.74 226.03,318.23 226.89,317.73 227.76,317.25 228.62,316.79 229.48,316.35 230.35,315.94 231.21,315.55 232.07,315.19 232.94,314.85 233.80,314.55 234.67,314.28 235.53,314.03 236.39,313.83 237.26,313.65 238.12,313.49 238.98,313.33 239.85,313.17 240.71,313.01 241.57,312.86 242.44,312.72 243.30,312.57 244.17,312.44 245.03,312.30 245.89,312.17 246.76,312.05 247.62,311.93 248.48,311.82 249.35,311.72 250.21,311.62 251.07,311.52 251.94,311.44 252.80,311.36 253.67,311.29 254.53,311.22 255.39,311.16 256.26,311.12 257.12,311.07 257.98,311.04 258.85,311.02 259.71,311.01 260.57,311.00" fill="none" stroke="#000" stroke-width="1.35"/>
<polyline points="53.30,399.40 54.16,399.21 55.03,399.01 55.89,398.80 56.75,398.57 57.62,398.34 58.48,398.09 59.35,397.84 60.21,397.57 61.07,397.30 61.94,397.01 62.80,396.72 63.66,396.41 64.53,396.10 65.39,395.78 66.25,395.45 67.12,395.11 67.98,394.77 68.85,394.42 69.71,394.06 70.57,393.69 71.44,393.32 72.30,392.94 73.16,392.55 74.03,392.16 74.89,391.76 75.75,391.36 76.62,390.95 77.48,390.54 78.35,390.12 79.21,389.70 80.07,389.28 80.94,388.85 81.80,388.42 82.66,387.98 83.53,387.54 84.39,387.10 85.25,386.64 86.12,386.15 86.98,385.64 87.85,385.11 88.71,384.55 89.57,383.98 90.44,383.40 91.30,382.80 92.16,382.19 93.03,381.58 93.89,380.96 94.75,380.33 95.62,379.71 96.48,379.08 97.35,378.46 98.21,377.85 99.07,377.24 99.94,376.64 100.80,376.05 101.66,375.47 102.53,374.88 103.39,374.29 104.25,373.71 105.12,373.12 105.98,372.53 106.85,371.93 107.71,371.33 108.57,370.73 109.44,370.12 110.30,369.51 111.16,368.88 112.03,368.25 112.89,367.61 113.76,366.95 114.62,366.27 115.48,365.57 116.35,364.87 117.21,364.16 118.07,363.44 118.94,362.72 119.80,362.00 120.66,361.28 121.53,360.57 122.39,359.86 123.26,359.17 124.12,358.49 124.98,357.82 125.85,357.18 126.71,356.55 127.57,355.95 128.44,355.38 129.30,354.83 130.16,354.29 131.03,353.77 131.89,353.27 132.76,352.78 133.62,352.29 134.48,351.82 135.35,351.35 136.21,350.89 137.07,350.43 137.94,349.97 138.80,349.51 139.66,349.05 140.53,348.58 141.39,348.11 142.26,347.63 143.12,347.13 143.98,346.63 144.85,346.11 145.71,345.55 146.57,344.93 147.44,344.28 148.30,343.61 149.16,342.93 150.03,342.25 150.89,341.58 151.76,340.94 152.62,340.35 153.48,339.80 154.35,339.33 155.21,338.93 156.07,338.63 156.94,338.43 157.80,338.25 158.66,338.08 159.53,337.92 160.39,337.76 161.26,337.61 162.12,337.47 162.98,337.34 163.85,337.22 164.71,337.10 165.57,336.99 166.44,336.90 167.30,336.81 168.16,336.73 169.03,336.67 169.89,336.61 170.76,336.57 171.62,336.53 172.48,336.51 173.35,336.50 174.21,336.49 175.07,336.48 175.94,336.47 176.80,336.47 177.66,336.46 178.53,336.45 179.39,336.44 180.26,336.44 181.12,336.43 181.98,336.42 182.85,336.42 183.71,336.41 184.57,336.41 185.44,336.40 186.30,336.40 187.16,336.39 188.03,336.38 188.89,336.38 189.76,336.38 190.62,336.37 191.48,336.37 192.35,336.36 193.21,336.36 194.07,336.35 194.94,336.35 195.80,336.35 196.66,336.34 197.53,336.34 198.39,336.34 199.26,336.33 200.12,336.33 200.98,336.33 201.85,336.33 202.71,336.32 203.57,336.32 204.44,336.32 205.30,336.32 206.16,336.31 207.03,336.31 207.89,336.31 208.76,336.31 209.62,336.31 210.48,336.31 211.35,336.31 212.21,336.30 213.07,336.30 213.94,336.30 214.80,336.30 215.66,336.30 216.53,336.30 217.39,336.30 218.26,336.30 219.12,336.30 219.98,336.30 220.85,336.30 221.71,336.30 222.57,336.30 223.44,336.30 224.30,336.30 225.16,336.30 226.03,336.30 226.89,336.30 227.76,336.30 228.62,336.30 229.48,336.30 230.35,336.31 231.21,336.31 232.07,336.31 232.94,336.31 233.80,336.31 234.67,336.31 235.53,336.31 236.39,336.31 237.26,336.32 238.12,336.32 238.98,336.32 239.85,336.32 240.71,336.32 241.57,336.32 242.44,336.33 243.30,336.33 244.17,336.33 245.03,336.33 245.89,336.34 246.76,336.34 247.62,336.34 248.48,336.35 249.35,336.35 250.21,336.35 251.07,336.35 251.94,336.36 252.80,336.36 253.67,336.37 254.53,336.37 255.39,336.37 256.26,336.38 257.12,336.38 257.98,336.39 258.85,336.39 259.71,336.40 260.57,336.40" fill="none" stroke="#000" stroke-width="1.35"/>
<polyline points="53.30,421.80 54.16,421.72 55.03,421.62 55.89,421.51 56.75,421.38 57.62,421.23 58.48,421.07 59.35,420.89 60.21,420.70 61.07,420.50 61.94,420.28 62.80,420.05 63.66,419.80 64.53,419.55 65.39,419.28 66.25,419.00 67.12,418.71 67.98,418.41 68.85,418.10 69.71,417.78 70.57,417.45 71.44,417.11 72.30,416.76 73.16,416.41 74.03,416.05 74.89,415.68 75.75,415.30 76.62,414.92 77.48,414.54 78.35,414.15 79.21,413.75 80.07,413.35 80.94,412.95 81.80,412.54 82.66,412.13 83.53,411.72 84.39,411.31 85.25,410.87 86.12,410.40 86.98,409.90 87.85,409.37 88.71,408.82 89.57,408.24 90.44,407.63 91.30,407.01 92.16,406.36 93.03,405.70 93.89,405.02 94.75,404.32 95.62,403.61 96.48,402.89 97.35,402.16 98.21,401.42 99.07,400.67 99.94,399.92 100.80,399.17 101.66,398.41 102.53,397.66 103.39,396.91 104.25,396.16 105.12,395.41 105.98,394.67 106.85,393.94 107.71,393.19 108.57,392.44 109.44,391.68 110.30,390.90 111.16,390.09 112.03,389.27 112.89,388.42 113.76,387.53 114.62,386.61 115.48,385.64 116.35,384.62 117.21,383.54 118.07,382.42 118.94,381.26 119.80,380.06 120.66,378.83 121.53,377.58 122.39,376.32 123.26,375.04 124.12,373.77 124.98,372.49 125.85,371.22 126.71,369.97 127.57,368.74 128.44,367.53 129.30,366.30 130.16,365.04 131.03,363.76 131.89,362.47 132.76,361.16 133.62,359.85 134.48,358.54 135.35,357.23 136.21,355.93 137.07,354.65 137.94,353.39 138.80,352.15 139.66,350.94 140.53,349.77 141.39,348.64 142.26,347.56 143.12,346.53 143.98,345.56 144.85,344.65 145.71,343.75 146.57,342.85 147.44,341.95 148.30,341.07 149.16,340.20 150.03,339.37 150.89,338.57 151.76,337.82 152.62,337.13 153.48,336.50 154.35,335.94 155.21,335.47 156.07,335.09 156.94,334.79 157.80,334.53 158.66,334.27 159.53,334.03 160.39,333.79 161.26,333.57 162.12,333.36 162.98,333.15 163.85,332.97 164.71,332.79 165.57,332.63 166.44,332.47 167.30,332.34 168.16,332.22 169.03,332.11 169.89,332.01 170.76,331.93 171.62,331.87 172.48,331.82 173.35,331.79 174.21,331.76 175.07,331.74 175.94,331.71 176.80,331.69 177.66,331.66 178.53,331.64 179.39,331.61 180.26,331.59 181.12,331.57 181.98,331.55 182.85,331.53 183.71,331.51 184.57,331.49 185.44,331.47 186.30,331.45 187.16,331.43 188.03,331.41 188.89,331.39 189.76,331.38 190.62,331.36 191.48,331.34 192.35,331.33 193.21,331.31 194.07,331.30 194.94,331.29 195.80,331.27 196.66,331.26 197.53,331.25 198.39,331.24 199.26,331.23 200.12,331.22 200.98,331.21 201.85,331.20 202.71,331.19 203.57,331.18 204.44,331.17 205.30,331.16 206.16,331.15 207.03,331.15 207.89,331.14 208.76,331.14 209.62,331.13 210.48,331.13 211.35,331.12 212.21,331.12 213.07,331.11 213.94,331.11 214.80,331.11 215.66,331.11 216.53,331.10 217.39,331.10 218.26,331.10 219.12,331.10 219.98,331.10 220.85,331.10 221.71,331.10 222.57,331.10 223.44,331.10 224.30,331.10 225.16,331.10 226.03,331.10 226.89,331.10 227.76,331.10 228.62,331.10 229.48,331.10 230.35,331.10 231.21,331.10 232.07,331.10 232.94,331.10 233.80,331.10 234.67,331.10 235.53,331.11 236.39,331.11 237.26,331.11 238.12,331.11 238.98,331.11 239.85,331.11 240.71,331.11 241.57,331.12 242.44,331.12 243.30,331.12 244.17,331.12 245.03,331.12 245.89,331.13 246.76,331.13 247.62,331.13 248.48,331.13 249.35,331.14 250.21,331.14 251.07,331.14 251.94,331.15 252.80,331.15 253.67,331.16 254.53,331.16 255.39,331.17 256.26,331.17 257.12,331.18 257.98,331.18 258.85,331.19 259.71,331.19 260.57,331.20" fill="none" stroke="#000" stroke-width="1.35"/>
<text x="280.5" y="265.7" font-family="'Liberation Sans', sans-serif" font-weight="bold" font-size="18">d</text>
<text transform="translate(290.6,365.8) rotate(-90)" text-anchor="middle" font-family="'Liberation Sans', sans-serif" font-size="12">HP Latency (s)</text>
<path d="M328,294.80 V439.00 H538.98" stroke="#000" stroke-width="1.5" fill="none"/>
<line x1="324" y1="439.00" x2="328" y2="439.00" stroke="#000" stroke-width="1.5"/>
<text x="317.40" y="443.30" text-anchor="end" font-family="'Liberation Sans', sans-serif" font-size="12">10</text>
<line x1="324" y1="402.95" x2="328" y2="402.95" stroke="#000" stroke-width="1.5"/>
<text x="317.40" y="407.25" text-anchor="end" font-family="'Liberation Sans', sans-serif" font-size="12">20</text>
<line x1="324" y1="366.90" x2="328" y2="366.90" stroke="#000" stroke-width="1.5"/>
<text x="317.40" y="371.20" text-anchor="end" font-family="'Liberation Sans', sans-serif" font-size="12">30</text>
<line x1="324" y1="330.85" x2="328" y2="330.85" stroke="#000" stroke-width="1.5"/>
<text x="317.40" y="335.15" text-anchor="end" font-family="'Liberation Sans', sans-serif" font-size="12">40</text>
<line x1="324" y1="294.80" x2="328" y2="294.80" stroke="#000" stroke-width="1.5"/>
<text x="317.40" y="299.10" text-anchor="end" font-family="'Liberation Sans', sans-serif" font-size="12">50</text>
<line x1="333.40" y1="439.00" x2="333.40" y2="443.00" stroke="#000" stroke-width="1.2"/>
<line x1="369.82" y1="439.00" x2="369.82" y2="441.20" stroke="#000" stroke-width="1.2"/>
<line x1="391.13" y1="439.00" x2="391.13" y2="441.20" stroke="#000" stroke-width="1.2"/>
<line x1="406.25" y1="439.00" x2="406.25" y2="441.20" stroke="#000" stroke-width="1.2"/>
<line x1="417.98" y1="439.00" x2="417.98" y2="441.20" stroke="#000" stroke-width="1.2"/>
<line x1="427.56" y1="439.00" x2="427.56" y2="441.20" stroke="#000" stroke-width="1.2"/>
<line x1="435.66" y1="439.00" x2="435.66" y2="441.20" stroke="#000" stroke-width="1.2"/>
<line x1="442.67" y1="439.00" x2="442.67" y2="441.20" stroke="#000" stroke-width="1.2"/>
<line x1="448.86" y1="439.00" x2="448.86" y2="441.20" stroke="#000" stroke-width="1.2"/>
<line x1="454.40" y1="439.00" x2="454.40" y2="443.00" stroke="#000" stroke-width="1.2"/>
<line x1="490.82" y1="439.00" x2="490.82" y2="441.20" stroke="#000" stroke-width="1.2"/>
<line x1="512.13" y1="439.00" x2="512.13" y2="441.20" stroke="#000" stroke-width="1.2"/>
<line x1="527.25" y1="439.00" x2="527.25" y2="441.20" stroke="#000" stroke-width="1.2"/>
<text x="333.40" y="458.50" text-anchor="middle" font-family="'Liberation Sans', sans-serif" font-size="12">1</text>
<text x="454.40" y="458.50" text-anchor="middle" font-family="'Liberation Sans', sans-serif" font-size="12">10</text>
<text x="433.3" y="479.40" text-anchor="middle" font-family="'Liberation Sans', sans-serif" font-size="12.3">Morphine (μg)</text>
<text x="340.9" y="284" font-family="'Liberation Sans', sans-serif" font-style="italic" font-size="11.3">Pretreatment</text>
<line x1="340.9" y1="285.3" x2="406.59999999999997" y2="285.3" stroke="#000" stroke-width="1"/>
<path d="M343.50,292.80 L346.90,296.20 L343.50,299.60 L340.10,296.20Z" fill="#fff" stroke="#000" stroke-width="1.3"/>
<text x="359.9" y="300.20" font-family="'Liberation Sans', sans-serif" font-size="11.3">Sal--T7 SQ</text>
<rect x="339.90" y="305.00" width="7.2" height="7.2" fill="#000"/>
<text x="359.9" y="312.60" font-family="'Liberation Sans', sans-serif" font-size="11.3">Mor</text>
<path d="M343.50,317.20 L347.30,321.00 L343.50,324.80 L339.70,321.00Z" fill="#000"/>
<text x="359.9" y="325.00" font-family="'Liberation Sans', sans-serif" font-size="11.3">Mor--T7 SQ</text>
<line x1="364.29" y1="397.90" x2="364.29" y2="415.60" stroke="#000" stroke-width="1.3"/>
<line x1="360.29" y1="397.90" x2="368.29" y2="397.90" stroke="#000" stroke-width="1.3"/>
<line x1="360.29" y1="415.60" x2="368.29" y2="415.60" stroke="#000" stroke-width="1.3"/>
<line x1="394.52" y1="368.80" x2="394.52" y2="384.20" stroke="#000" stroke-width="1.3"/>
<line x1="390.52" y1="368.80" x2="398.52" y2="368.80" stroke="#000" stroke-width="1.3"/>
<line x1="454.40" y1="312.50" x2="454.40" y2="326.88" stroke="#000" stroke-width="1.3"/>
<line x1="450.40" y1="312.50" x2="458.40" y2="312.50" stroke="#000" stroke-width="1.3"/>
<line x1="485.29" y1="295.10" x2="485.29" y2="305.62" stroke="#000" stroke-width="1.3"/>
<line x1="481.29" y1="295.10" x2="489.29" y2="295.10" stroke="#000" stroke-width="1.3"/>
<line x1="394.52" y1="415.50" x2="394.52" y2="429.10" stroke="#000" stroke-width="1.3"/>
<line x1="390.52" y1="415.50" x2="398.52" y2="415.50" stroke="#000" stroke-width="1.3"/>
<line x1="390.52" y1="429.10" x2="398.52" y2="429.10" stroke="#000" stroke-width="1.3"/>
<line x1="423.93" y1="401.80" x2="423.93" y2="421.20" stroke="#000" stroke-width="1.3"/>
<line x1="419.93" y1="401.80" x2="427.93" y2="401.80" stroke="#000" stroke-width="1.3"/>
<line x1="419.93" y1="421.20" x2="427.93" y2="421.20" stroke="#000" stroke-width="1.3"/>
<line x1="454.40" y1="375.30" x2="454.40" y2="404.20" stroke="#000" stroke-width="1.3"/>
<line x1="450.40" y1="375.30" x2="458.40" y2="375.30" stroke="#000" stroke-width="1.3"/>
<line x1="450.40" y1="404.20" x2="458.40" y2="404.20" stroke="#000" stroke-width="1.3"/>
<line x1="485.29" y1="325.50" x2="485.29" y2="355.90" stroke="#000" stroke-width="1.3"/>
<line x1="481.29" y1="325.50" x2="489.29" y2="325.50" stroke="#000" stroke-width="1.3"/>
<line x1="481.29" y1="355.90" x2="489.29" y2="355.90" stroke="#000" stroke-width="1.3"/>
<line x1="394.52" y1="401.30" x2="394.52" y2="398.80" stroke="#000" stroke-width="1.3"/>
<line x1="390.52" y1="401.30" x2="398.52" y2="401.30" stroke="#000" stroke-width="1.3"/>
<line x1="390.52" y1="398.80" x2="398.52" y2="398.80" stroke="#000" stroke-width="1.3"/>
<line x1="423.93" y1="347.30" x2="423.93" y2="380.70" stroke="#000" stroke-width="1.3"/>
<line x1="419.93" y1="347.30" x2="427.93" y2="347.30" stroke="#000" stroke-width="1.3"/>
<line x1="419.93" y1="380.70" x2="427.93" y2="380.70" stroke="#000" stroke-width="1.3"/>
<line x1="454.40" y1="315.40" x2="454.40" y2="351.50" stroke="#000" stroke-width="1.3"/>
<line x1="450.40" y1="315.40" x2="458.40" y2="315.40" stroke="#000" stroke-width="1.3"/>
<line x1="450.40" y1="351.50" x2="458.40" y2="351.50" stroke="#000" stroke-width="1.3"/>
<line x1="485.29" y1="313.90" x2="485.29" y2="322.60" stroke="#000" stroke-width="1.3"/>
<line x1="481.29" y1="313.90" x2="489.29" y2="313.90" stroke="#000" stroke-width="1.3"/>
<line x1="481.29" y1="322.60" x2="489.29" y2="322.60" stroke="#000" stroke-width="1.3"/>
<path d="M364.29,405.64 L368.09,409.44 L364.29,413.24 L360.49,409.44Z" fill="#000"/>
<path d="M394.52,402.03 L398.32,405.83 L394.52,409.63 L390.72,405.83Z" fill="#000"/>
<path d="M423.93,359.86 L427.73,363.66 L423.93,367.46 L420.13,363.66Z" fill="#000"/>
<path d="M454.40,327.05 L458.20,330.85 L454.40,334.65 L450.60,330.85Z" fill="#000"/>
<path d="M485.29,299.65 L489.09,303.45 L485.29,307.25 L481.49,303.45Z" fill="#000"/>
<rect x="390.92" y="419.18" width="7.2" height="7.2" fill="#000"/>
<rect x="420.33" y="408.00" width="7.2" height="7.2" fill="#000"/>
<rect x="450.80" y="387.45" width="7.2" height="7.2" fill="#000"/>
<rect x="481.69" y="336.62" width="7.2" height="7.2" fill="#000"/>
<path d="M364.29,400.99 L367.69,404.39 L364.29,407.79 L360.89,404.39Z" fill="#fff" stroke="#000" stroke-width="1.3"/>
<path d="M394.52,380.80 L397.92,384.20 L394.52,387.60 L391.12,384.20Z" fill="#fff" stroke="#000" stroke-width="1.3"/>
<path d="M454.40,323.48 L457.80,326.88 L454.40,330.28 L451.00,326.88Z" fill="#fff" stroke="#000" stroke-width="1.3"/>
<path d="M485.29,302.22 L488.69,305.62 L485.29,309.01 L481.89,305.62Z" fill="#fff" stroke="#000" stroke-width="1.3"/>
<polyline points="333.40,405.32 334.26,405.13 335.11,404.94 335.97,404.76 336.83,404.57 337.68,404.38 338.54,404.19 339.40,404.00 340.25,403.82 341.11,403.63 341.97,403.44 342.82,403.26 343.68,403.07 344.54,402.88 345.39,402.70 346.25,402.51 347.11,402.32 347.96,402.14 348.82,401.95 349.67,401.77 350.53,401.59 351.39,401.40 352.24,401.22 353.10,401.04 353.96,400.86 354.81,400.68 355.67,400.50 356.53,400.32 357.38,400.14 358.24,399.95 359.10,399.77 359.95,399.59 360.81,399.40 361.67,399.21 362.52,399.02 363.38,398.83 364.24,398.63 365.09,398.45 365.95,398.26 366.81,398.07 367.66,397.89 368.52,397.70 369.38,397.51 370.23,397.32 371.09,397.13 371.95,396.93 372.80,396.72 373.66,396.50 374.52,396.28 375.37,396.04 376.23,395.80 377.08,395.54 377.94,395.26 378.80,394.98 379.65,394.68 380.51,394.38 381.37,394.06 382.22,393.73 383.08,393.39 383.94,393.04 384.79,392.67 385.65,392.30 386.51,391.92 387.36,391.53 388.22,391.13 389.08,390.72 389.93,390.30 390.79,389.87 391.65,389.44 392.50,388.99 393.36,388.54 394.22,388.08 395.07,387.61 395.93,387.14 396.79,386.66 397.64,386.17 398.50,385.67 399.36,385.17 400.21,384.66 401.07,384.15 401.93,383.63 402.78,383.10 403.64,382.57 404.49,382.04 405.35,381.49 406.21,380.95 407.06,380.40 407.92,379.85 408.78,379.28 409.63,378.68 410.49,378.05 411.35,377.38 412.20,376.69 413.06,375.98 413.92,375.26 414.77,374.53 415.63,373.80 416.49,373.07 417.34,372.35 418.20,371.64 419.06,370.93 419.91,370.22 420.77,369.50 421.63,368.76 422.48,368.01 423.34,367.22 424.20,366.41 425.05,365.55 425.91,364.66 426.77,363.74 427.62,362.79 428.48,361.82 429.34,360.83 430.19,359.82 431.05,358.81 431.90,357.79 432.76,356.77 433.62,355.75 434.47,354.74 435.33,353.71 436.19,352.68 437.04,351.64 437.90,350.59 438.76,349.53 439.61,348.46 440.47,347.40 441.33,346.32 442.18,345.25 443.04,344.17 443.90,343.09 444.75,342.01 445.61,340.93 446.47,339.85 447.32,338.76 448.18,337.67 449.04,336.58 449.89,335.48 450.75,334.38 451.61,333.28 452.46,332.17 453.32,331.07 454.18,329.96 455.03,328.84 455.89,327.70 456.75,326.53 457.60,325.36 458.46,324.18 459.31,323.00 460.17,321.84 461.03,320.70 461.88,319.58 462.74,318.50 463.60,317.47 464.45,316.48 465.31,315.55 466.17,314.68 467.02,313.85 467.88,313.05 468.74,312.26 469.59,311.48 470.45,310.69 471.31,309.91 472.16,309.15 473.02,308.39 473.88,307.63 474.73,306.86 475.59,306.05 476.45,305.21 477.30,304.38 478.16,303.59 479.02,302.89 479.87,302.24 480.73,301.61 481.59,301.01 482.44,300.46 483.30,299.95 484.16,299.51 485.01,299.16 485.87,298.84 486.72,298.55 487.58,298.26 488.44,297.99 489.29,297.74 490.15,297.50 491.01,297.28 491.86,297.08 492.72,296.89 493.58,296.71 494.43,296.55 495.29,296.41 496.15,296.29 497.00,296.17 497.86,296.07 498.72,295.97 499.57,295.87 500.43,295.77 501.29,295.68 502.14,295.59 503.00,295.51 503.86,295.42 504.71,295.34 505.57,295.27 506.43,295.20 507.28,295.14 508.14,295.08 509.00,295.02 509.85,294.97 510.71,294.93 511.57,294.89 512.42,294.86 513.28,294.83 514.14,294.81 514.99,294.80 515.85,294.78 516.70,294.77 517.56,294.76 518.42,294.75 519.27,294.74 520.13,294.73 520.99,294.72 521.84,294.71 522.70,294.70 523.56,294.69 524.41,294.68 525.27,294.67 526.13,294.67 526.98,294.66 527.84,294.65 528.70,294.64 529.55,294.64 530.41,294.63 531.27,294.63 532.12,294.62 532.98,294.62 533.84,294.62 534.69,294.61 535.55,294.61 536.41,294.61 537.26,294.60 538.12,294.60 538.98,294.60" fill="none" stroke="#000" stroke-width="1.35"/>
<polyline points="333.40,427.10 334.26,427.06 335.11,427.02 335.97,426.98 336.83,426.93 337.68,426.88 338.54,426.83 339.40,426.78 340.25,426.73 341.11,426.68 341.97,426.63 342.82,426.57 343.68,426.52 344.54,426.46 345.39,426.40 346.25,426.34 347.11,426.28 347.96,426.22 348.82,426.16 349.67,426.10 350.53,426.03 351.39,425.97 352.24,425.90 353.10,425.83 353.96,425.77 354.81,425.70 355.67,425.63 356.53,425.56 357.38,425.49 358.24,425.42 359.10,425.35 359.95,425.27 360.81,425.20 361.67,425.12 362.52,425.04 363.38,424.97 364.24,424.89 365.09,424.80 365.95,424.72 366.81,424.63 367.66,424.54 368.52,424.45 369.38,424.36 370.23,424.27 371.09,424.17 371.95,424.07 372.80,423.97 373.66,423.86 374.52,423.76 375.37,423.65 376.23,423.53 377.08,423.42 377.94,423.29 378.80,423.16 379.65,423.02 380.51,422.88 381.37,422.72 382.22,422.56 383.08,422.40 383.94,422.23 384.79,422.05 385.65,421.87 386.51,421.68 387.36,421.50 388.22,421.30 389.08,421.11 389.93,420.92 390.79,420.72 391.65,420.52 392.50,420.32 393.36,420.11 394.22,419.91 395.07,419.70 395.93,419.49 396.79,419.27 397.64,419.06 398.50,418.84 399.36,418.61 400.21,418.39 401.07,418.16 401.93,417.93 402.78,417.70 403.64,417.47 404.49,417.23 405.35,416.99 406.21,416.74 407.06,416.49 407.92,416.24 408.78,415.99 409.63,415.73 410.49,415.48 411.35,415.21 412.20,414.95 413.06,414.68 413.92,414.40 414.77,414.13 415.63,413.85 416.49,413.56 417.34,413.28 418.20,412.99 419.06,412.69 419.91,412.40 420.77,412.10 421.63,411.79 422.48,411.48 423.34,411.17 424.20,410.85 425.05,410.53 425.91,410.21 426.77,409.88 427.62,409.55 428.48,409.21 429.34,408.87 430.19,408.53 431.05,408.17 431.90,407.81 432.76,407.44 433.62,407.06 434.47,406.67 435.33,406.26 436.19,405.84 437.04,405.40 437.90,404.95 438.76,404.47 439.61,403.98 440.47,403.46 441.33,402.92 442.18,402.35 443.04,401.76 443.90,401.11 444.75,400.39 445.61,399.62 446.47,398.79 447.32,397.92 448.18,397.01 449.04,396.05 449.89,395.07 450.75,394.05 451.61,393.01 452.46,391.96 453.32,390.89 454.18,389.80 455.03,388.68 455.89,387.51 456.75,386.28 457.60,385.00 458.46,383.68 459.31,382.32 460.17,380.93 461.03,379.51 461.88,378.07 462.74,376.61 463.60,375.14 464.45,373.66 465.31,372.17 466.17,370.69 467.02,369.21 467.88,367.75 468.74,366.30 469.59,364.88 470.45,363.48 471.31,362.11 472.16,360.75 473.02,359.40 473.88,358.07 474.73,356.74 475.59,355.41 476.45,354.09 477.30,352.75 478.16,351.41 479.02,350.06 479.87,348.70 480.73,347.31 481.59,345.91 482.44,344.48 483.30,343.02 484.16,341.53 485.01,340.00 485.87,338.39 486.72,336.70 487.58,334.96 488.44,333.18 489.29,331.40 490.15,329.63 491.01,327.92 491.86,326.28 492.72,324.73 493.58,323.21 494.43,321.72 495.29,320.25 496.15,318.83 497.00,317.44 497.86,316.10 498.72,314.83 499.57,313.61 500.43,312.45 501.29,311.30 502.14,310.16 503.00,309.06 503.86,307.99 504.71,306.96 505.57,305.98 506.43,305.06 507.28,304.21 508.14,303.44 509.00,302.75 509.85,302.09 510.71,301.46 511.57,300.84 512.42,300.25 513.28,299.69 514.14,299.16 514.99,298.66 515.85,298.21 516.70,297.80 517.56,297.44 518.42,297.13 519.27,296.88 520.13,296.66 520.99,296.44 521.84,296.24 522.70,296.05 523.56,295.87 524.41,295.71 525.27,295.57 526.13,295.43 526.98,295.32 527.84,295.23 528.70,295.15 529.55,295.10 530.41,295.06 531.27,295.03 532.12,294.99 532.98,294.96 533.84,294.93 534.69,294.90 535.55,294.87 536.41,294.85 537.26,294.84 538.12,294.82 538.98,294.81" fill="none" stroke="#000" stroke-width="1.35"/>
<polyline points="333.40,414.21 334.26,414.10 335.11,413.98 335.97,413.86 336.83,413.74 337.68,413.62 338.54,413.49 339.40,413.36 340.25,413.24 341.11,413.10 341.97,412.97 342.82,412.84 343.68,412.70 344.54,412.57 345.39,412.43 346.25,412.29 347.11,412.15 347.96,412.01 348.82,411.86 349.67,411.72 350.53,411.58 351.39,411.43 352.24,411.29 353.10,411.14 353.96,411.00 354.81,410.85 355.67,410.69 356.53,410.54 357.38,410.38 358.24,410.22 359.10,410.05 359.95,409.88 360.81,409.70 361.67,409.52 362.52,409.33 363.38,409.13 364.24,408.92 365.09,408.71 365.95,408.48 366.81,408.25 367.66,408.00 368.52,407.75 369.38,407.49 370.23,407.22 371.09,406.95 371.95,406.66 372.80,406.37 373.66,406.08 374.52,405.78 375.37,405.47 376.23,405.16 377.08,404.84 377.94,404.52 378.80,404.20 379.65,403.87 380.51,403.54 381.37,403.21 382.22,402.87 383.08,402.52 383.94,402.17 384.79,401.82 385.65,401.46 386.51,401.10 387.36,400.73 388.22,400.36 389.08,399.98 389.93,399.59 390.79,399.19 391.65,398.79 392.50,398.39 393.36,397.97 394.22,397.55 395.07,397.12 395.93,396.69 396.79,396.24 397.64,395.79 398.50,395.33 399.36,394.86 400.21,394.38 401.07,393.90 401.93,393.40 402.78,392.90 403.64,392.38 404.49,391.86 405.35,391.32 406.21,390.78 407.06,390.22 407.92,389.65 408.78,389.05 409.63,388.42 410.49,387.76 411.35,387.06 412.20,386.34 413.06,385.60 413.92,384.82 414.77,384.02 415.63,383.19 416.49,382.34 417.34,381.47 418.20,380.57 419.06,379.65 419.91,378.66 420.77,377.58 421.63,376.44 422.48,375.25 423.34,374.04 424.20,372.85 425.05,371.70 425.91,370.57 426.77,369.44 427.62,368.31 428.48,367.19 429.34,366.06 430.19,364.94 431.05,363.81 431.90,362.68 432.76,361.55 433.62,360.41 434.47,359.27 435.33,358.12 436.19,356.98 437.04,355.84 437.90,354.69 438.76,353.54 439.61,352.39 440.47,351.23 441.33,350.07 442.18,348.90 443.04,347.72 443.90,346.54 444.75,345.35 445.61,344.14 446.47,342.92 447.32,341.68 448.18,340.43 449.04,339.17 449.89,337.91 450.75,336.65 451.61,335.39 452.46,334.14 453.32,332.90 454.18,331.68 455.03,330.45 455.89,329.21 456.75,327.96 457.60,326.70 458.46,325.45 459.31,324.20 460.17,322.98 461.03,321.78 461.88,320.61 462.74,319.49 463.60,318.41 464.45,317.39 465.31,316.43 466.17,315.51 467.02,314.61 467.88,313.75 468.74,312.91 469.59,312.10 470.45,311.30 471.31,310.53 472.16,309.77 473.02,309.02 473.88,308.28 474.73,307.56 475.59,306.82 476.45,306.07 477.30,305.31 478.16,304.56 479.02,303.82 479.87,303.09 480.73,302.40 481.59,301.75 482.44,301.16 483.30,300.62 484.16,300.15 485.01,299.75 485.87,299.40 486.72,299.07 487.58,298.75 488.44,298.44 489.29,298.15 490.15,297.88 491.01,297.63 491.86,297.39 492.72,297.17 493.58,296.98 494.43,296.80 495.29,296.63 496.15,296.49 497.00,296.37 497.86,296.26 498.72,296.15 499.57,296.04 500.43,295.94 501.29,295.84 502.14,295.75 503.00,295.66 503.86,295.57 504.71,295.49 505.57,295.41 506.43,295.34 507.28,295.27 508.14,295.21 509.00,295.15 509.85,295.10 510.71,295.05 511.57,295.01 512.42,294.97 513.28,294.94 514.14,294.91 514.99,294.89 515.85,294.88 516.70,294.86 517.56,294.84 518.42,294.83 519.27,294.81 520.13,294.79 520.99,294.78 521.84,294.76 522.70,294.75 523.56,294.74 524.41,294.73 525.27,294.71 526.13,294.70 526.98,294.69 527.84,294.68 528.70,294.67 529.55,294.66 530.41,294.65 531.27,294.64 532.12,294.64 532.98,294.63 533.84,294.62 534.69,294.62 535.55,294.61 536.41,294.61 537.26,294.61 538.12,294.60 538.98,294.60" fill="none" stroke="#000" stroke-width="1.35"/>
</svg></body></html>
